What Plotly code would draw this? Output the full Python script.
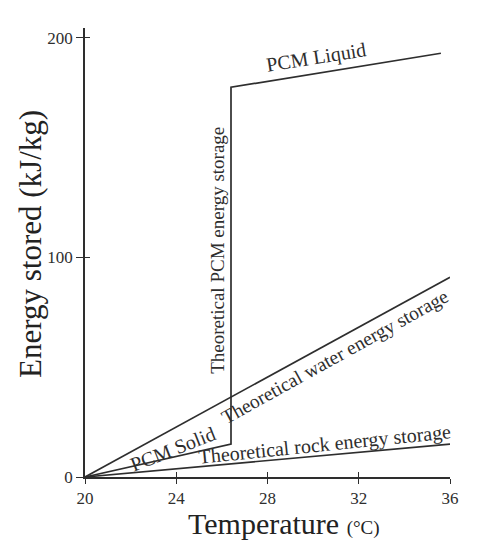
import plotly.graph_objects as go

# Data
pcm_temp = [20, 26.4, 26.4, 35.6]
pcm_energy = [0, 15, 177.5, 193]
water_temp = [20, 36]
water_energy = [0, 91]
rock_temp = [20, 36]
rock_energy = [0, 15]

x_ticks = [20, 24, 28, 32, 36]
y_ticks = [0, 100, 200]

labels = ["PCM Liquid", "Theoretical PCM energy storage",
          "Theoretical water energy storage", "Theoretical rock energy storage",
          "PCM Solid"]
label_x = [30.13, 25.83, 30.98, 30.52, 23.84]
label_y = [190.9, 103.0, 54.9, 14.8, 12.8]
label_angle = [-9, -90, -29, -5.8, -21.5]
label_size = [20, 19, 19.5, 20, 20]

FONT = "Liberation Serif"
INK = "#2e2e2e"

fig = go.Figure()
for xs, ys in [(pcm_temp, pcm_energy), (water_temp, water_energy), (rock_temp, rock_energy)]:
    fig.add_trace(go.Scatter(x=xs, y=ys, mode="lines",
                             line=dict(color=INK, width=1.7),
                             showlegend=False, hoverinfo="skip"))
# invisible trace to host the overlay axes (crossing tick marks)
fig.add_trace(go.Scatter(x=[None], y=[None], xaxis="x2", yaxis="y2",
                         mode="lines", showlegend=False, hoverinfo="skip"))

for t, x, y, a, s in zip(labels, label_x, label_y, label_angle, label_size):
    fig.add_annotation(x=x, y=y, text=t, textangle=a, showarrow=False,
                       font=dict(family=FONT, size=s, color=INK))

# axis titles
fig.add_annotation(xref="paper", yref="paper", x=-0.148, y=0.519,
                   text="Energy stored (kJ/kg)", textangle=-90, showarrow=False,
                   xanchor="center", yanchor="middle",
                   font=dict(family=FONT, size=31, color="#222"))
fig.add_annotation(xref="paper", yref="paper", x=0.544, y=-0.103,
                   text="Temperature <span style='font-size:19px'>(°C)</span>",
                   showarrow=False, xanchor="center", yanchor="middle",
                   font=dict(family=FONT, size=30, color="#222"))

axis_common = dict(showgrid=False, zeroline=False, showline=True,
                   linecolor=INK, linewidth=1.7, tickcolor=INK, tickwidth=1.4)

fig.update_layout(
    width=471, height=542,
    margin=dict(l=77, r=29, t=20, b=73),
    paper_bgcolor="white", plot_bgcolor="white",
    font=dict(family=FONT, color=INK),
    xaxis=dict(range=[20, 36], tickvals=x_ticks, ticks="outside", ticklen=5,
               tickfont=dict(size=17, family=FONT, color=INK), **axis_common),
    yaxis=dict(range=[0, 204.5], tickvals=y_ticks, ticks="outside", ticklen=7,
               tickfont=dict(size=17, family=FONT, color=INK), **axis_common),
    xaxis2=dict(overlaying="x", anchor="y", side="bottom", matches="x",
                range=[20, 36], tickvals=x_ticks, ticks="inside", ticklen=5,
                showticklabels=False, **axis_common),
    yaxis2=dict(overlaying="y", anchor="x", side="left", matches="y",
                range=[0, 204.5], tickvals=y_ticks, ticks="inside", ticklen=5,
                showticklabels=False, **axis_common),
)

fig.write_html("out.html")
